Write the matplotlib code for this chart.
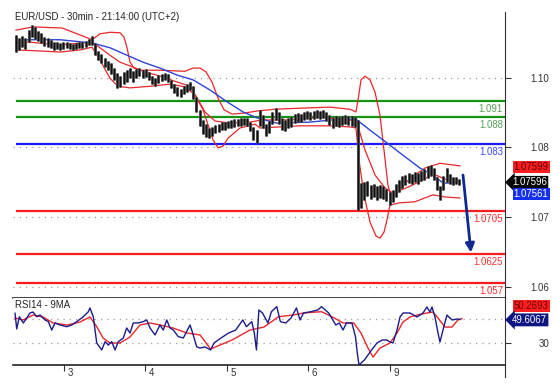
import numpy as np
import matplotlib
matplotlib.use("Agg")
import matplotlib.pyplot as plt
from matplotlib.lines import Line2D

plt.rcParams['font.family'] = ['Liberation Sans', 'DejaVu Sans']

# ---------------- data ----------------
title = "EUR/USD - 30min - 21:14:00 (UTC+2)"
day_pos = [0, 1, 2, 3, 4]
day_labels = ['3', '4', '5', '6', '9']

bar_t0 = -0.590
bar_step = 0.0389
highs = [1.1034,1.1028,1.1032,1.1028,1.1043,1.1053,1.1049,1.1041,1.1038,1.1030,
         1.1028,1.1025,1.1021,1.1021,1.1019,1.1021,1.1021,1.1019,1.1017,1.1019,
         1.1021,1.1021,1.1023,1.1026,1.1032,1.1019,1.1004,1.0998,1.0991,1.0985,
         1.0981,1.0972,1.0963,1.0957,1.0965,1.0968,1.0972,1.0966,1.0970,1.0972,
         1.0968,1.0970,1.0965,1.0957,1.0953,1.0959,1.0961,1.0963,1.0961,1.0950,
         1.0942,1.0937,1.0933,1.0938,1.0942,1.0946,1.0938,1.0918,1.0894,1.0875,
         1.0867,1.0860,1.0862,1.0866,1.0867,1.0871,1.0871,1.0873,1.0875,1.0877,
         1.0877,1.0879,1.0879,1.0879,1.0871,1.0862,1.0856,1.0894,1.0884,1.0867,
         1.0873,1.0890,1.0897,1.0890,1.0879,1.0875,1.0879,1.0880,1.0886,1.0888,
         1.0886,1.0890,1.0892,1.0890,1.0892,1.0894,1.0892,1.0894,1.0890,1.0884,
         1.0879,1.0882,1.0880,1.0882,1.0884,1.0882,1.0882,1.0880,1.0875,1.0757,
         1.0759,1.0761,1.0753,1.0755,1.0751,1.0753,1.0751,1.0746,1.0740,1.0744,
         1.0755,1.0763,1.0770,1.0772,1.0776,1.0774,1.0778,1.0776,1.0779,1.0783,
         1.0789,1.0791,1.0785,1.0768,1.0751,1.0770,1.0785,1.0774,1.0768,1.0768,
         1.0765]
lows = [1.1002,1.1006,1.1011,1.1008,1.1021,1.1030,1.1026,1.1023,1.1019,1.1013,
        1.1011,1.1010,1.1006,1.1008,1.1006,1.1008,1.1010,1.1008,1.1006,1.1008,
        1.1010,1.1010,1.1011,1.1015,1.1015,1.0996,1.0987,1.0981,1.0974,1.0968,
        1.0961,1.0950,1.0935,1.0937,1.0942,1.0946,1.0953,1.0946,1.0953,1.0957,
        1.0953,1.0955,1.0950,1.0942,1.0938,1.0944,1.0948,1.0950,1.0946,1.0935,
        1.0925,1.0920,1.0918,1.0923,1.0927,1.0931,1.0914,1.0890,1.0864,1.0849,
        1.0843,1.0841,1.0845,1.0851,1.0853,1.0856,1.0856,1.0860,1.0860,1.0862,
        1.0864,1.0864,1.0866,1.0864,1.0854,1.0838,1.0832,1.0864,1.0860,1.0845,
        1.0851,1.0867,1.0875,1.0867,1.0856,1.0854,1.0860,1.0862,1.0869,1.0871,
        1.0871,1.0875,1.0877,1.0875,1.0877,1.0879,1.0877,1.0879,1.0873,1.0866,
        1.0860,1.0864,1.0862,1.0866,1.0867,1.0866,1.0864,1.0862,1.0707,1.0710,
        1.0725,1.0733,1.0727,1.0731,1.0725,1.0729,1.0727,1.0723,1.0716,1.0722,
        1.0731,1.0740,1.0748,1.0753,1.0757,1.0755,1.0759,1.0755,1.0761,1.0763,
        1.0766,1.0770,1.0763,1.0744,1.0725,1.0744,1.0759,1.0755,1.0753,1.0755,
        1.0753]

upper_t = [-0.590,-0.381,-0.025,0.197,0.344,0.442,0.565,0.688,0.737,0.774,0.811,0.860,0.934,
           1.179,1.486,1.585,1.671,1.744,1.818,1.892,1.966,2.064,2.224,2.383,2.592,2.899,
           3.268,3.514,3.587,3.612,3.649,3.698,3.759,3.821,3.882,3.931,3.980,4.029,4.103,
           4.251,4.435,4.619,4.865]
upper_p = [1.1043,1.1049,1.1047,1.1034,1.1025,1.1036,1.1039,1.1038,1.1030,1.1010,1.0983,1.0972,1.0968,
           1.0968,1.0966,1.0972,1.0972,1.0965,1.0946,1.0916,1.0894,1.0886,1.0888,1.0892,1.0895,1.0897,
           1.0899,1.0895,1.0890,1.0912,1.0950,1.0957,1.0950,1.0927,1.0884,1.0819,1.0753,1.0725,1.0740,
           1.0766,1.0785,1.0794,1.0789]
middle_t = [-0.590,-0.049,0.344,0.442,0.565,0.688,0.811,0.995,1.179,1.388,1.548,1.634,1.732,1.855,
            2.039,2.285,2.432,2.776,3.145,3.514,3.600,3.698,3.821,3.943,4.042,4.251,4.410,4.533,
            4.705,4.865]
middle_p = [1.1023,1.1015,1.1021,1.1010,1.0996,1.0983,1.0976,1.0965,1.0957,1.0946,1.0938,1.0916,1.0890,1.0873,
            1.0869,1.0871,1.0875,1.0875,1.0880,1.0875,1.0869,1.0819,1.0772,1.0748,1.0738,1.0751,1.0763,1.0774,
            1.0763,1.0759]
lower_t = [-0.590,-0.295,-0.049,0.197,0.344,0.442,0.565,0.663,0.811,1.057,1.302,1.486,1.609,1.708,
           1.769,1.830,1.892,1.953,2.015,2.162,2.346,2.408,2.654,2.899,3.268,3.514,3.587,3.624,
           3.686,3.759,3.833,3.882,3.931,3.968,4.005,4.128,4.312,4.533,4.681,4.865]
lower_p = [1.1006,1.1004,1.1002,1.1006,1.1011,1.0987,1.0953,1.0938,1.0935,1.0938,1.0942,1.0937,1.0922,1.0894,
           1.0866,1.0838,1.0823,1.0826,1.0841,1.0860,1.0867,1.0860,1.0862,1.0864,1.0864,1.0862,1.0860,1.0800,
           1.0735,1.0684,1.0658,1.0654,1.0665,1.0688,1.0716,1.0720,1.0722,1.0735,1.0731,1.0729]
ma_t = [-0.590,-0.049,0.344,0.565,0.774,0.971,1.179,1.388,1.585,1.794,2.002,2.199,2.371,2.617,
        3.022,3.428,3.600,3.759,3.968,4.165,4.373,4.533,4.656,4.865]
ma_p = [1.1025,1.1025,1.1019,1.1010,1.0996,1.0983,1.0972,1.0959,1.0950,1.0931,1.0909,1.0890,1.0879,1.0869,
        1.0871,1.0877,1.0875,1.0856,1.0832,1.0809,1.0785,1.0772,1.0757,1.0757]

levels = [1.091, 1.088, 1.083, 1.0705, 1.0625, 1.057]
level_labels = ['1.091', '1.088', '1.083', '1.0705', '1.0625', '1.057']
level_colors = ['#149414', '#149414', '#1a1aff', '#ff1a1a', '#ff1a1a', '#ff1a1a']
level_text_colors = ['#55a055', '#55a055', '#3b4cff', '#ff3030', '#ff3030', '#ff3030']

price_tick_pos = [1.0953, 1.0824, 1.0694, 1.0563]
price_tick_labels = ['1.10', '1.08', '1.07', '1.06']

last_price = 1.07596
ask_price = 1.07599
bid_price = 1.07561
arrow_start = (4.902, 1.0772)
arrow_end = (5.000, 1.0627)

rsi_t = [-0.602,-0.581,-0.549,-0.500,-0.458,-0.418,-0.381,-0.335,-0.295,-0.233,-0.193,-0.151,-0.111,-0.049,
         0.033,0.095,0.156,0.237,0.299,0.319,0.360,0.381,0.402,0.463,0.504,0.544,0.586,0.627,0.667,0.729,
         0.770,0.811,0.851,0.913,0.974,1.016,1.057,1.118,1.179,1.220,1.262,1.302,1.343,1.404,1.466,1.548,
         1.588,1.630,1.670,1.732,1.801,1.843,1.929,2.021,2.109,2.197,2.241,2.307,2.338,2.364,2.394,2.439,
         2.505,2.548,2.614,2.658,2.724,2.789,2.856,2.899,2.943,3.032,3.119,3.163,3.252,3.339,3.383,3.428,
         3.470,3.537,3.581,3.603,3.624,3.690,3.779,3.845,3.910,3.968,3.999,4.042,4.091,4.128,4.165,4.251,
         4.337,4.410,4.459,4.496,4.521,4.558,4.595,4.619,4.656,4.705,4.767,4.828,4.865]
rsi_v = [54.8,41.7,51.9,46.7,50.8,55.0,55.8,51.9,53.3,49.2,47.8,40.8,46.7,45.0,
         43.6,45.0,47.8,51.9,56.1,59.2,51.9,40.8,30.0,24.2,31.1,28.3,31.1,24.2,31.1,34.2,
         42.5,38.3,46.7,46.7,47.8,49.2,42.5,36.7,45.0,40.8,49.2,42.5,40.8,35.3,34.2,45.0,
         36.7,26.9,25.8,26.7,24.2,30.0,34.2,38.3,40.8,49.2,43.6,47.8,38.3,24.2,57.5,55.0,
         46.7,56.1,60.3,47.8,46.7,50.8,59.2,49.2,55.0,56.1,57.5,60.3,55.0,45.0,46.7,40.8,
         46.7,46.7,35.3,21.7,11.7,15.8,24.2,30.0,32.5,32.5,31.1,30.0,40.8,51.7,55.0,55.0,
         51.7,55.0,60.0,55.8,60.0,51.7,38.3,30.8,40.8,53.3,49.2,50.0,49.6]
rsima_t = [-0.602,-0.504,-0.381,-0.258,-0.135,0.037,0.197,0.319,0.405,0.479,0.565,0.688,0.811,0.934,
           1.057,1.179,1.339,1.511,1.671,1.801,2.064,2.285,2.457,2.636,2.813,2.943,3.163,3.292,3.428,
           3.559,3.649,3.735,3.796,3.882,4.005,4.091,4.165,4.251,4.337,4.459,4.533,4.595,4.681,4.767,
           4.840,4.889]
rsima_v = [50.8,49.2,53.3,51.7,46.7,45.0,47.5,51.7,43.3,34.2,30.0,30.0,35.0,45.0,
           46.7,45.0,42.5,38.3,36.7,25.0,32.5,40.8,43.3,51.9,53.3,55.0,56.1,51.9,46.7,
           46.7,38.3,25.8,18.3,25.8,30.0,38.3,47.5,51.7,53.3,55.0,55.8,50.8,43.3,43.3,
           49.2,50.3]
rsi_last = 49.6067
rsima_last = 50.2693

# ---------------- layout ----------------
W, H = 559, 387
fig = plt.figure(figsize=(W / 100, H / 100), dpi=100)
xl, xr = 12.5, 505
ax = fig.add_axes([xl / W, 1 - 298 / H, (xr - xl) / W, (298 - 12) / H])
axr = fig.add_axes([xl / W, 1 - 365 / H, (xr - xl) / W, (365 - 298) / H], sharex=ax)

XMIN, XMAX = -0.633, 5.418
ax.set_xlim(XMIN, XMAX)
ax.set_ylim(1.0542, 1.10769)
axr.set_ylim(11.67, 67.5)

dot = (0, (1, 4))
grid_c = '#9a9a9a'

# main panel
for v in price_tick_pos:
    ax.axhline(v, color=grid_c, lw=0.9, ls=dot, zorder=1)

bar_t = bar_t0 + bar_step * np.arange(len(highs))
ax.hlines(levels, bar_t[0], XMAX, colors=level_colors, lw=1.6, zorder=2)

ax.plot(upper_t, upper_p, color='#e8262b', lw=0.9, zorder=3)
ax.plot(middle_t, middle_p, color='#e8262b', lw=0.9, zorder=3)
ax.plot(lower_t, lower_p, color='#e8262b', lw=0.9, zorder=3)
ax.plot(ma_t, ma_p, color='#2f43d6', lw=1.0, zorder=3)
ax.vlines(bar_t, lows, highs, color='#5a5a5a', lw=2.2, zorder=4)
ax.vlines(bar_t, lows, highs, color='#111111', lw=1.0, zorder=5)

ax.annotate('', xy=arrow_end, xytext=arrow_start,
            arrowprops=dict(arrowstyle='-|>', color='#0e2a8e', lw=2.0,
                            mutation_scale=13, shrinkA=0, shrinkB=0), zorder=6)

for lv, lab, c in zip(levels, level_labels, level_text_colors):
    ax.annotate(lab, xy=(1, lv), xycoords=('axes fraction', 'data'),
                xytext=(-1.5, -2.2), textcoords='offset points',
                ha='right', va='top', fontsize=6.9, color=c)

for s in ['top', 'left']:
    ax.spines[s].set_visible(False)
ax.spines['right'].set_color('#333333')
ax.spines['bottom'].set_color('#222222')
ax.spines['bottom'].set_linewidth(1.2)
ax.yaxis.tick_right()
ax.set_yticks(price_tick_pos)
ax.set_yticklabels(price_tick_labels)
ax.tick_params(axis='y', direction='out', length=4, pad=28, labelsize=7,
               colors='#333333', width=0.8)
for lab in ax.get_yticklabels():
    lab.set_horizontalalignment('right')
ax.tick_params(axis='x', bottom=False, labelbottom=False)

fig.text(15 / W, 1 - 17 / H, title, fontsize=6.9, color='#222222', va='center', ha='left')

# price boxes
box_fs = 6.9
ax.annotate(f'{ask_price:.5f}', xy=(1, last_price), xycoords=('axes fraction', 'data'),
            xytext=(6.3, 10.3), textcoords='offset points', ha='left', va='center',
            fontsize=box_fs, color='#5a0000',
            bbox=dict(boxstyle='square,pad=0.12', fc='#ff1f1f', ec='none'))
ax.annotate(f'{last_price:.5f}', xy=(1, last_price), xycoords=('axes fraction', 'data'),
            xytext=(5.0, -0.5), textcoords='offset points', ha='left', va='center',
            fontsize=box_fs, color='white',
            bbox=dict(boxstyle='larrow,pad=0.15', fc='#050505', ec='none'))
ax.annotate(f'{bid_price:.5f}', xy=(1, last_price), xycoords=('axes fraction', 'data'),
            xytext=(6.3, -9.0), textcoords='offset points', ha='left', va='center',
            fontsize=box_fs, color='white',
            bbox=dict(boxstyle='square,pad=0.12', fc='#1530f0', ec='none'))

# RSI panel
for v in [50, 30]:
    axr.axhline(v, color=grid_c, lw=0.9, ls=dot, zorder=1)
axr.plot(rsima_t, rsima_v, color='#e8262b', lw=1.0, zorder=3)
axr.plot(rsi_t, rsi_v, color='#1b1b8a', lw=1.0, zorder=4)

for s in ['top', 'left']:
    axr.spines[s].set_visible(False)
axr.spines['right'].set_color('#333333')
axr.spines['bottom'].set_color('#222222')
axr.spines['bottom'].set_linewidth(1.2)
axr.yaxis.tick_right()
axr.set_yticks([30, 50])
axr.set_yticklabels(['30', ''])
axr.tick_params(axis='y', direction='out', length=4, pad=28, labelsize=7,
                colors='#333333', width=0.8)
for lab in axr.get_yticklabels():
    lab.set_horizontalalignment('right')
axr.set_xticks(day_pos)
axr.tick_params(axis='x', direction='out', length=4, width=0.8, colors='#333333',
                labelbottom=False)
for p, lab in zip(day_pos, day_labels):
    axr.annotate(lab, xy=(p, 0), xycoords=('data', 'axes fraction'),
                 xytext=(2.5, -2.5), textcoords='offset points',
                 ha='left', va='top', fontsize=7, color='#333333')

axr.text(15 / W, 1 - 305 / H, 'RSI14 - 9MA', transform=fig.transFigure,
         fontsize=6.9, color='#222222', va='center', ha='left')

axr.annotate(f'{rsima_last:.4f}', xy=(1, rsima_last), xycoords=('axes fraction', 'data'),
             xytext=(6.3, 9.2), textcoords='offset points', ha='left', va='center',
             fontsize=box_fs, color='#6a0000',
             bbox=dict(boxstyle='square,pad=0.12', fc='#ff1f1f', ec='none'))
axr.annotate(f'{rsi_last:.4f}', xy=(1, rsi_last), xycoords=('axes fraction', 'data'),
             xytext=(5.0, -0.3), textcoords='offset points', ha='left', va='center',
             fontsize=box_fs, color='white',
             bbox=dict(boxstyle='larrow,pad=0.15', fc='#0c1580', ec='none'))

fig.add_artist(Line2D([xr / W, xr / W], [1 - 365 / H, 1 - 377 / H],
                      transform=fig.transFigure, color='#333333', lw=0.8))

fig.savefig('out.png', dpi=100)
